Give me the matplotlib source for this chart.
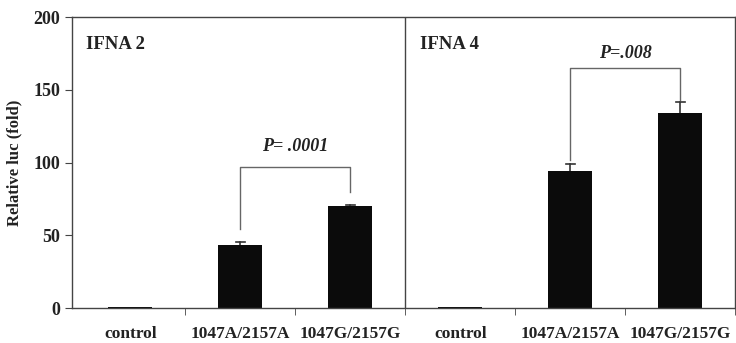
import matplotlib.pyplot as plt
import numpy as np

plt.rcParams['font.family'] = ['Liberation Serif', 'DejaVu Serif']
plt.rcParams['font.weight'] = 'bold'

categories = ["control", "1047A/2157A", "1047G/2157G", "control", "1047A/2157A", "1047G/2157G"]
values = [1, 43, 70, 1, 94, 134]
errors = [0, 2.5, 1, 0, 5, 8]
panels = ["IFNA 2", "IFNA 4"]
pvals = ["P= .0001", "P=.008"]

fig = plt.figure(figsize=(7.36, 3.43), dpi=100)
ax = fig.add_axes([0.098, 0.102, 0.901, 0.848])

x = np.arange(len(categories))
ax.bar(x, values, width=0.4, color='#0b0b0b', zorder=2)
for xi, v, e in zip(x, values, errors):
    if e > 0:
        ax.plot([xi, xi], [v, v + e], color='#333333', lw=1.2, zorder=1)
        ax.plot([xi - 0.04, xi + 0.04], [v + e, v + e], color='#333333', lw=1.2, zorder=1)

ax.set_xlim(-0.53, 5.5)
ax.set_ylim(0, 200)
ax.axvline(2.5, color='#444444', lw=1)

# brackets
ax.plot([1, 1, 2, 2], [54, 97, 97, 80], color='#666666', lw=1)
ax.text(1.5, 105, pvals[0], ha='center', va='bottom', fontsize=13, style='italic', color='#222222')
ax.plot([4, 4, 5, 5], [102, 165, 165, 143], color='#666666', lw=1)
ax.text(4.5, 169, pvals[1], ha='center', va='bottom', fontsize=13, style='italic', color='#222222')

ax.text(-0.4, 181, panels[0], fontsize=13.5, fontweight='bold', va='center', color='#222222')
ax.text(2.63, 181, panels[1], fontsize=13.5, fontweight='bold', va='center', color='#222222')

ax.set_xticks(x)
ax.set_xticklabels(categories, fontsize=12.5, fontweight='bold', color='#222222')
ax.tick_params(axis='x', which='major', length=0, pad=13)
ax.set_xticks(np.arange(0.5, 5.6, 1), minor=True)
ax.tick_params(axis='x', which='minor', length=5, color='#444444')
ax.set_yticks([0, 50, 100, 150, 200])
ax.tick_params(axis='y', length=5, labelsize=13, color='#444444', labelcolor='#222222')
for lbl in ax.get_yticklabels():
    lbl.set_fontweight('bold')
ax.set_ylabel("Relative luc (fold)", fontsize=12, fontweight='bold', color='#222222', labelpad=8)

for s in ax.spines.values():
    s.set_color('#444444')
    s.set_linewidth(1)

fig.savefig("out.png", dpi=100)
